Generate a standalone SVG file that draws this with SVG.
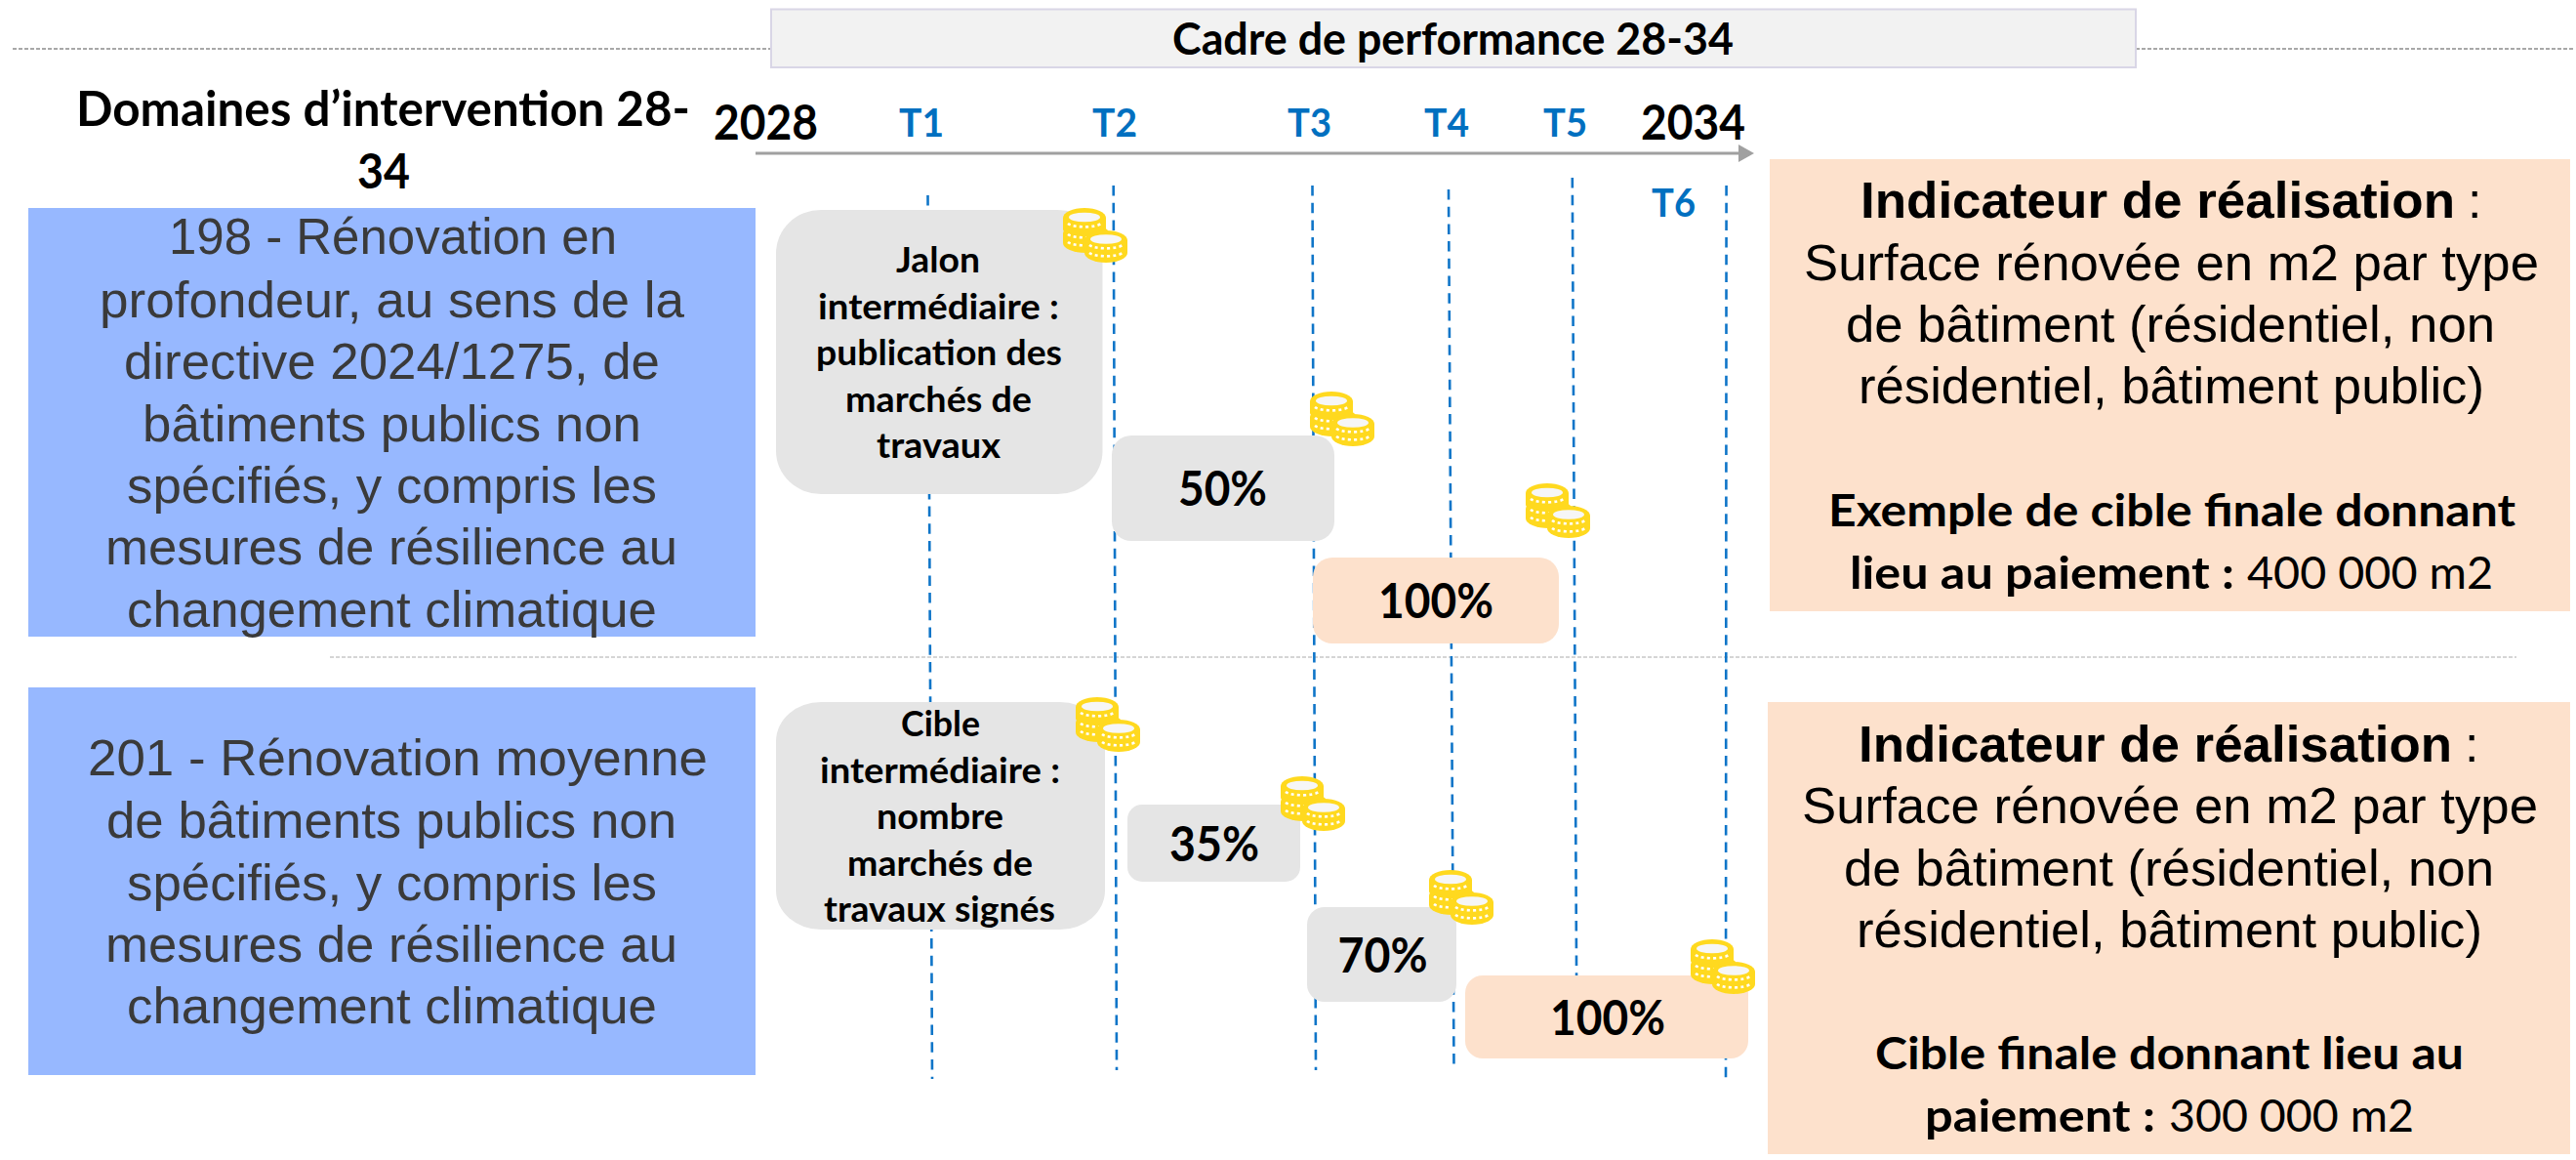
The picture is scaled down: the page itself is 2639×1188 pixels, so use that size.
<svg xmlns="http://www.w3.org/2000/svg" xmlns:xlink="http://www.w3.org/1999/xlink" width="2639" height="1188" viewBox="0 0 2639 1188">
<style>
.cal{font-family:"Lato","Open Sans",sans-serif;font-weight:700;fill:#000}
.reg{font-weight:400}
.t{font-size:41px;fill:#0070C0}
.yr{font-size:49px}
.hd{font-size:46px}
.box{font-size:37px}
.pct{font-size:49px}
.ind{font-size:46px}
.ar{font-family:"Liberation Sans",Arial,sans-serif;font-size:52px;fill:#000}
.bl{fill:#3a3a3a}
.b{font-weight:700}
.blue{fill:#97B8FF}
.grey{fill:#E5E5E5}
.peach{fill:#FDE1CC}
.dash{stroke:#0F75C8;stroke-width:2.6;stroke-dasharray:10.5 7.2;fill:none}
.sep{stroke:#A8A8A8;stroke-width:2;stroke-dasharray:4 2;fill:none}
.sep2{stroke:#C8C8C8;stroke-width:1.5;stroke-dasharray:4 2;fill:none}
.gold{fill:#FFD91F}
.dot{fill:none;stroke:#fff;stroke-width:2.6;stroke-dasharray:3 3.2}
.hole{fill:#F6F6F6}
</style>
<defs>
<marker id="arrow" markerUnits="userSpaceOnUse" markerWidth="16" markerHeight="18" refX="1" refY="9" orient="auto"><path d="M0,0L16,9L0,18Z" fill="#A0A0A0"/></marker>
<g id="coins">
<path class="gold" d="M0,26A23.500,10 0 0 1 47,26V36A23.500,10 0 0 1 0,36Z"/>
<path class="gold" d="M0,10A22,10 0 0 1 44,10V22A22,6 0 0 1 0,22Z"/>
<ellipse class="hole" cx="22" cy="9.500" rx="16" ry="4.800"/>
<path class="dot" d="M5,16A18,5 0 0 0 39,16"/>
<path class="dot" d="M5,27A18,5 0 0 0 39,27"/>
<path class="dot" d="M5,35A18,5 0 0 0 39,35"/>
<path class="gold" d="M22,33A22,10 0 0 1 66,33V46A22,10 0 0 1 22,46Z"/>
<ellipse class="hole" cx="44" cy="32" rx="16" ry="4.800"/>
<path class="dot" d="M27,38A18,5 0 0 0 61,38"/>
<path class="dot" d="M27,46A18,5 0 0 0 61,46"/>
</g>
</defs>

<g id="connectors">
<path class="sep" d="M13,50H790"/>
<path class="sep" d="M2188,50H2636"/>
<path class="sep2" d="M338,673H2578"/>
<line x1="774" y1="157" x2="1782" y2="157" stroke="#A0A0A0" stroke-width="3" marker-end="url(#arrow)"/>
<path class="dash" d="M950.500,200L955,1105"/>
<path class="dash" d="M1140.700,190L1144,1096"/>
<path class="dash" d="M1344.500,190L1348,1096"/>
<path class="dash" d="M1484,194L1489.500,1096"/>
<path class="dash" d="M1610.800,182L1615.500,1083"/>
<path class="dash" d="M1768.600,190L1768,1110"/>
</g>

<g id="header">
<rect x="790" y="9.500" width="1398" height="59.500" fill="#F2F2F2" stroke="#D9D6E6" stroke-width="2"/>
<text class="cal hd" x="1201" y="56" textLength="575" lengthAdjust="spacingAndGlyphs">Cadre de performance 28-34</text>
</g>

<g id="title-domaines">
<text class="cal yr"><tspan x="78" y="129" textLength="629" lengthAdjust="spacingAndGlyphs">Domaines d’intervention 28-</tspan><tspan x="366" y="193" textLength="54" lengthAdjust="spacingAndGlyphs">34</tspan></text>
</g>

<g id="timeline-labels">
<text class="cal yr" x="731" y="143" textLength="107" lengthAdjust="spacingAndGlyphs">2028</text>
<text class="cal t" x="921" y="140" textLength="46" lengthAdjust="spacingAndGlyphs">T1</text>
<text class="cal t" x="1119" y="140" textLength="46" lengthAdjust="spacingAndGlyphs">T2</text>
<text class="cal t" x="1319" y="140" textLength="45" lengthAdjust="spacingAndGlyphs">T3</text>
<text class="cal t" x="1459" y="140" textLength="46" lengthAdjust="spacingAndGlyphs">T4</text>
<text class="cal t" x="1581" y="140" textLength="45" lengthAdjust="spacingAndGlyphs">T5</text>
<text class="cal yr" x="1681" y="143" textLength="107" lengthAdjust="spacingAndGlyphs">2034</text>
<text class="cal t" x="1692" y="222" textLength="45" lengthAdjust="spacingAndGlyphs">T6</text>
</g>

<g id="domaine-198">
<rect class="blue" x="29" y="213" width="745" height="439"/>
<text class="ar bl">
<tspan x="173" y="260" textLength="459" lengthAdjust="spacingAndGlyphs">198 - Rénovation en</tspan>
<tspan x="102" y="325" textLength="599" lengthAdjust="spacingAndGlyphs">profondeur, au sens de la</tspan>
<tspan x="127" y="388" textLength="549" lengthAdjust="spacingAndGlyphs">directive 2024/1275, de</tspan>
<tspan x="146" y="452" textLength="511" lengthAdjust="spacingAndGlyphs">bâtiments publics non</tspan>
<tspan x="130" y="515" textLength="543" lengthAdjust="spacingAndGlyphs">spécifiés, y compris les</tspan>
<tspan x="108" y="578" textLength="586" lengthAdjust="spacingAndGlyphs">mesures de résilience au</tspan>
<tspan x="130" y="642" textLength="543" lengthAdjust="spacingAndGlyphs">changement climatique</tspan>
</text>
</g>

<g id="domaine-201">
<rect class="blue" x="29" y="704" width="745" height="397"/>
<text class="ar bl">
<tspan x="90" y="794" textLength="635" lengthAdjust="spacingAndGlyphs">201 - Rénovation moyenne</tspan>
<tspan x="109" y="858" textLength="584" lengthAdjust="spacingAndGlyphs">de bâtiments publics non</tspan>
<tspan x="130" y="922" textLength="543" lengthAdjust="spacingAndGlyphs">spécifiés, y compris les</tspan>
<tspan x="108" y="985" textLength="586" lengthAdjust="spacingAndGlyphs">mesures de résilience au</tspan>
<tspan x="130" y="1048" textLength="543" lengthAdjust="spacingAndGlyphs">changement climatique</tspan>
</text>
</g>

<g id="jalon">
<rect class="grey" x="795" y="215" width="334.500" height="291" rx="46" ry="44"/>
<text class="cal box">
<tspan x="918" y="279" textLength="86" lengthAdjust="spacingAndGlyphs">Jalon</tspan>
<tspan x="838" y="327" textLength="247" lengthAdjust="spacingAndGlyphs">intermédiaire :</tspan>
<tspan x="836" y="374" textLength="252" lengthAdjust="spacingAndGlyphs">publication des</tspan>
<tspan x="866" y="422" textLength="191" lengthAdjust="spacingAndGlyphs">marchés de</tspan>
<tspan x="898" y="469" textLength="127" lengthAdjust="spacingAndGlyphs">travaux</tspan>
</text>
</g>
<g id="pct-50">
<rect class="grey" x="1139" y="446" width="228" height="108" rx="20"/>
<text class="cal pct" x="1207" y="518" textLength="91" lengthAdjust="spacingAndGlyphs">50%</text>
</g>
<g id="pct-100-a">
<rect class="peach" x="1345" y="571" width="252" height="88" rx="20"/>
<text class="cal pct" x="1412" y="633" textLength="118" lengthAdjust="spacingAndGlyphs">100%</text>
</g>

<g id="cible">
<rect class="grey" x="795" y="719" width="337" height="233" rx="46" ry="40"/>
<text class="cal box">
<tspan x="923" y="754" textLength="81" lengthAdjust="spacingAndGlyphs">Cible</tspan>
<tspan x="840" y="802" textLength="246" lengthAdjust="spacingAndGlyphs">intermédiaire :</tspan>
<tspan x="898" y="849" textLength="130" lengthAdjust="spacingAndGlyphs">nombre</tspan>
<tspan x="868" y="897" textLength="190" lengthAdjust="spacingAndGlyphs">marchés de</tspan>
<tspan x="844" y="944" textLength="237" lengthAdjust="spacingAndGlyphs">travaux signés</tspan>
</text>
</g>
<g id="pct-35">
<rect class="grey" x="1155" y="824" width="177" height="79" rx="15"/>
<text class="cal pct" x="1198" y="882" textLength="92" lengthAdjust="spacingAndGlyphs">35%</text>
</g>
<g id="pct-70">
<rect class="grey" x="1339" y="929" width="153" height="97" rx="18"/>
<text class="cal pct" x="1370.500" y="996" textLength="92" lengthAdjust="spacingAndGlyphs">70%</text>
</g>
<g id="pct-100-b">
<rect class="peach" x="1501" y="999" width="290" height="85" rx="18"/>
<text class="cal pct" x="1588" y="1060" textLength="118" lengthAdjust="spacingAndGlyphs">100%</text>
</g>

<g id="indicateur-198">
<rect class="peach" x="1813" y="163" width="820" height="463"/>
<text class="ar">
<tspan class="b" x="1906" y="223" textLength="609" lengthAdjust="spacingAndGlyphs">Indicateur de réalisation</tspan>
<tspan x="2528" y="223">:</tspan>
<tspan x="1848" y="287" textLength="753" lengthAdjust="spacingAndGlyphs">Surface rénovée en m2 par type</tspan>
<tspan x="1891" y="350" textLength="665" lengthAdjust="spacingAndGlyphs">de bâtiment (résidentiel, non</tspan>
<tspan x="1904" y="413" textLength="641" lengthAdjust="spacingAndGlyphs">résidentiel, bâtiment public)</tspan>
</text>
<text class="cal ind">
<tspan x="1873" y="539" textLength="704" lengthAdjust="spacingAndGlyphs">Exemple de cible finale donnant</tspan>
<tspan x="1895" y="603" textLength="394" lengthAdjust="spacingAndGlyphs">lieu au paiement :</tspan>
<tspan class="reg" x="2302" y="603" textLength="252" lengthAdjust="spacingAndGlyphs">400 000 m2</tspan>
</text>
</g>

<g id="indicateur-201">
<rect class="peach" x="1811" y="719" width="822" height="463"/>
<text class="ar">
<tspan class="b" x="1904" y="780" textLength="608" lengthAdjust="spacingAndGlyphs">Indicateur de réalisation</tspan>
<tspan x="2525" y="780">:</tspan>
<tspan x="1846" y="843" textLength="754" lengthAdjust="spacingAndGlyphs">Surface rénovée en m2 par type</tspan>
<tspan x="1889" y="907" textLength="666" lengthAdjust="spacingAndGlyphs">de bâtiment (résidentiel, non</tspan>
<tspan x="1902" y="970" textLength="641" lengthAdjust="spacingAndGlyphs">résidentiel, bâtiment public)</tspan>
</text>
<text class="cal ind">
<tspan x="1921" y="1095" textLength="603" lengthAdjust="spacingAndGlyphs">Cible finale donnant lieu au</tspan>
<tspan x="1972" y="1159" textLength="236" lengthAdjust="spacingAndGlyphs">paiement :</tspan>
<tspan class="reg" x="2222" y="1159" textLength="251" lengthAdjust="spacingAndGlyphs">300 000 m2</tspan>
</text>
</g>

<g id="coins-icons">
<use href="#coins" x="1089" y="213"/>
<use href="#coins" x="1342" y="401"/>
<use href="#coins" x="1563" y="495"/>
<use href="#coins" x="1102" y="714"/>
<use href="#coins" x="1312" y="795"/>
<use href="#coins" x="1464" y="891"/>
<use href="#coins" x="1732" y="962"/>
</g>
</svg>
